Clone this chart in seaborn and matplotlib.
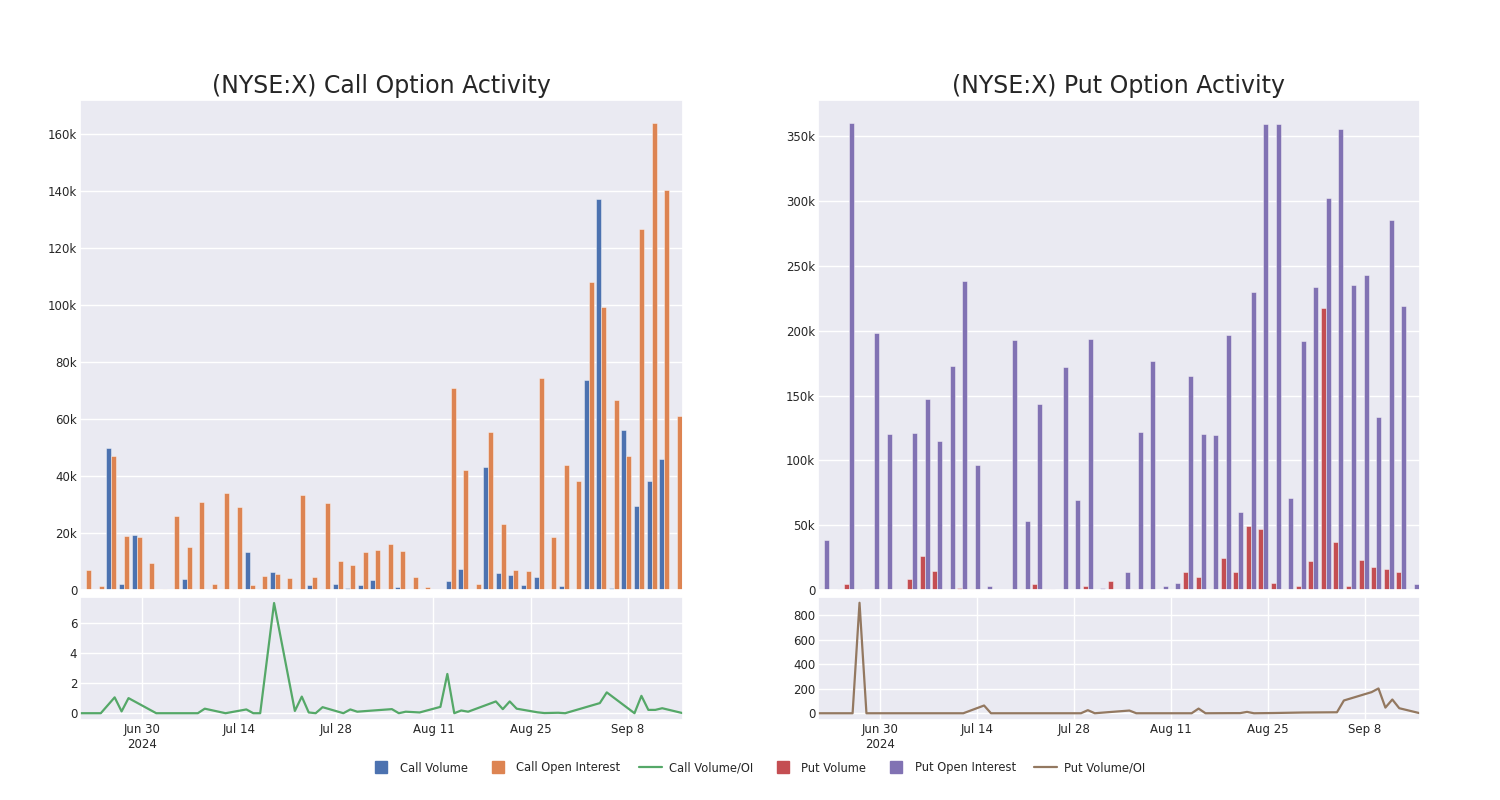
import matplotlib
matplotlib.use("Agg")
import matplotlib.pyplot as plt
from matplotlib.ticker import FuncFormatter
from matplotlib.lines import Line2D
import seaborn as sns
import pandas as pd

# ---------------- data ----------------
dates = [
    "2024-06-21", "2024-06-24", "2024-06-26", "2024-06-27", "2024-06-28",
    "2024-07-02", "2024-07-05", "2024-07-08", "2024-07-09", "2024-07-12",
    "2024-07-15", "2024-07-16", "2024-07-17", "2024-07-19", "2024-07-22",
    "2024-07-23", "2024-07-24", "2024-07-25", "2024-07-26", "2024-07-29",
    "2024-07-30", "2024-07-31", "2024-08-02", "2024-08-05", "2024-08-06",
    "2024-08-07", "2024-08-09", "2024-08-12", "2024-08-13", "2024-08-14",
    "2024-08-15", "2024-08-16", "2024-08-20", "2024-08-21", "2024-08-22",
    "2024-08-23", "2024-08-26", "2024-08-27", "2024-08-29", "2024-08-30",
    "2024-09-04", "2024-09-05", "2024-09-09", "2024-09-10", "2024-09-11",
    "2024-09-12", "2024-09-13", "2024-09-16",
]

call_volume = [
    0, 0, 49700, 2000, 19200, 0, 0, 0, 4000, 0,
    350, 0, 200, 13200, 400, 6400, 100, 100, 1600, 200,
    2100, 700, 1600, 3400, 100, 1200, 100, 350, 100, 3000,
    7500, 100, 43200, 6000, 5300, 1800, 4600, 100, 1500, 100,
    73700, 137000, 700, 56300, 29400, 38200, 45900, 100,
]
call_open_interest = [
    7000, 1500, 47100, 19100, 18500, 9400, 350, 25900, 15000, 30900,
    2200, 34000, 29200, 1800, 4900, 5500, 4100, 33300, 4700, 30500,
    10300, 8800, 13500, 14100, 16200, 13700, 4500, 1100, 50, 71000,
    42000, 2200, 55400, 23000, 6900, 6700, 74300, 18600, 43700, 38100,
    108100, 99300, 66500, 47000, 126800, 163700, 140400, 61100,
]
call_volume_oi = [
    0, 0, 1.05, 0.12, 1.0, 0, 0, 0, 0.3, 0,
    0.25, 0, 0, 7.3, 0.15, 1.1, 0.05, 0, 0.4, 0,
    0.25, 0.1, 0.17, 0.27, 0, 0.1, 0.05, 0.42, 2.6, 0,
    0.18, 0.1, 0.78, 0.27, 0.78, 0.3, 0.06, 0.01, 0.03, 0,
    0.67, 1.38, 0, 1.15, 0.22, 0.22, 0.33, 0,
]

put_volume = [
    0, 300, 4400, 450, 0, 0, 0, 8500, 26300, 14400,
    200, 1800, 500, 300, 200, 0, 1000, 4400, 800, 200,
    200, 3100, 0, 7200, 300, 800, 300, 0, 200, 13700,
    9800, 0, 25000, 13700, 49200, 46900, 5400, 1000, 2800, 22700,
    217800, 37400, 3400, 22900, 17800, 16500, 14200, 0,
]
put_open_interest = [
    38700, 500, 360000, 200, 198400, 120600, 300, 121000, 147400, 115200,
    172900, 238600, 96100, 3400, 200, 192800, 53600, 143800, 800, 172100,
    69800, 193800, 1500, 200, 13900, 121900, 176300, 3100, 5400, 164900,
    120300, 119800, 196400, 59800, 229600, 359200, 359700, 70900, 192000, 234000,
    302500, 355400, 235300, 243000, 133200, 285800, 219000, 4900,
]
put_volume_oi = [
    0, 0, 0, 900, 0, 0, 0, 0, 0, 0,
    63, 0, 0, 0, 0, 0, 0, 0, 0, 0,
    25, 0, 9, 22, 0, 0, 0, 0, 0, 0,
    38, 0, 1, 1, 11, 0, 2, 3, 5, 6,
    8, 104, 172, 202, 46, 112, 41, 0,
]

date_tick_values = ["2024-06-30", "2024-07-14", "2024-07-28", "2024-08-11", "2024-08-25", "2024-09-08"]
date_tick_labels = ["Jun 30\n2024", "Jul 14", "Jul 28", "Aug 11", "Aug 25", "Sep 8"]

titles = ["(NYSE:X) Call Option Activity", "(NYSE:X) Put Option Activity"]
call_names = ["Call Volume", "Call Open Interest", "Call Volume/OI"]
put_names = ["Put Volume", "Put Open Interest", "Put Volume/OI"]

# ---------------- style ----------------
sns.set_theme(style="darkgrid")
plt.rcParams["font.family"] = ["DejaVu Sans"]
deep = sns.color_palette("deep")
c_call_vol, c_call_oi, c_call_ratio = deep[0], deep[1], deep[2]
c_put_vol, c_put_oi, c_put_ratio = deep[3], deep[4], deep[5]

fig = plt.figure(figsize=(15, 8), dpi=100)

W, H = 1500.0, 800.0
def box(x0, y0, x1, y1):
    return [x0 / W, 1 - y1 / H, (x1 - x0) / W, (y1 - y0) / H]

ax_ct = fig.add_axes(box(80, 100, 683, 590))
ax_cb = fig.add_axes(box(80, 597, 683, 720))
ax_pt = fig.add_axes(box(818, 100, 1420, 590))
ax_pb = fig.add_axes(box(818, 597, 1420, 720))

kfmt = FuncFormatter(lambda v, p: "0" if v == 0 else f"{int(round(v / 1000))}k")
dt = pd.to_datetime(dates)
tick_dt = pd.to_datetime(date_tick_values)

def top_panel(ax, vol, oi, names, colors, title, yticks):
    df = pd.DataFrame({
        "date": dates * 2,
        "value": list(vol) + list(oi),
        "series": [names[0]] * len(dates) + [names[1]] * len(dates),
    })
    sns.barplot(data=df, x="date", y="value", hue="series", order=dates,
                hue_order=names[:2], palette=colors, saturation=1,
                edgecolor=(1, 1, 1, 0.5), linewidth=0.6, legend=False, ax=ax)
    ax.set_xlim(-0.5, len(dates) - 0.5)
    ax.set_xticks([0, 10, 20, 30, 40])
    ax.set_xticklabels([])
    ax.set_yticks(yticks)
    ax.yaxis.set_major_formatter(kfmt)
    ax.set_xlabel("")
    ax.set_ylabel("")
    ax.tick_params(axis="both", length=0, labelsize=8.5, pad=2)
    ax.set_title(title, fontsize=17, pad=5, color="#262626")

def bottom_panel(ax, ratio, color, yticks):
    sns.lineplot(x=dt, y=ratio, color=color, linewidth=1.6, ax=ax)
    ax.set_xlim(dt[0], dt[-1])
    ax.set_xticks(tick_dt)
    ax.set_xticklabels(date_tick_labels)
    ax.set_yticks(yticks)
    ax.set_xlabel("")
    ax.set_ylabel("")
    ax.tick_params(axis="both", length=0, labelsize=8.5, pad=2)

top_panel(ax_ct, call_volume, call_open_interest, call_names,
          [c_call_vol, c_call_oi], titles[0], range(0, 160001, 20000))
top_panel(ax_pt, put_volume, put_open_interest, put_names,
          [c_put_vol, c_put_oi], titles[1], range(0, 350001, 50000))
bottom_panel(ax_cb, call_volume_oi, c_call_ratio, [0, 2, 4, 6])
bottom_panel(ax_pb, put_volume_oi, c_put_ratio, [0, 200, 400, 600, 800])
ax_cb.set_ylim(-0.45, 7.7)
ax_pb.set_ylim(-55, 947)

handles = [
    Line2D([], [], marker="s", linestyle="", color=c_call_vol, markersize=8),
    Line2D([], [], marker="s", linestyle="", color=c_call_oi, markersize=8),
    Line2D([], [], color=c_call_ratio, linewidth=1.6),
    Line2D([], [], marker="s", linestyle="", color=c_put_vol, markersize=8),
    Line2D([], [], marker="s", linestyle="", color=c_put_oi, markersize=8),
    Line2D([], [], color=c_put_ratio, linewidth=1.6),
]
labels = call_names + put_names
fig.legend(handles, labels, loc="center", bbox_to_anchor=(0.505, 0.04), ncol=6,
           frameon=False, fontsize=8.3, handlelength=2.0, columnspacing=1.6,
           handletextpad=0.6)

fig.savefig("out.png", dpi=100, facecolor="white")
